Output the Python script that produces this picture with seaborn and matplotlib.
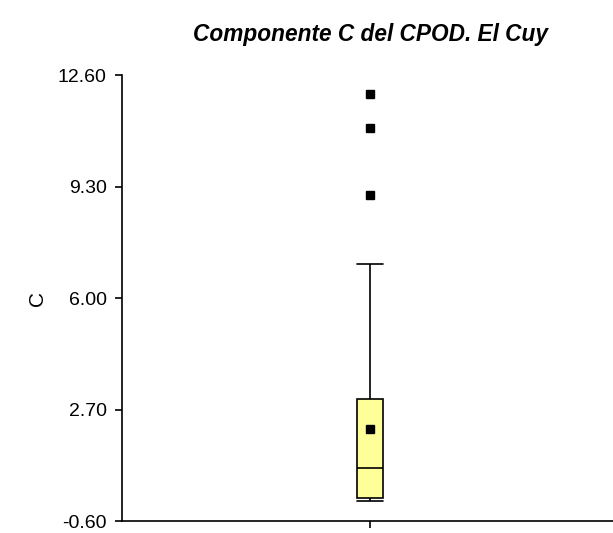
import matplotlib
matplotlib.use("Agg")
import matplotlib.pyplot as plt
import seaborn as sns
import pandas as pd

# Observations (hand-read sample reproducing the box statistics in the reference)
c_values = [
    0.00, 0.00, 0.01, 0.01, 0.02, 0.03, 0.04, 0.05, 0.06, 0.07,
    0.08,
    0.12, 0.18, 0.25, 0.33, 0.42, 0.52, 0.64, 0.76, 0.88,
    0.98,
    1.05, 1.15, 1.30, 1.45, 1.65, 1.85, 2.10, 2.40, 2.75,
    3.00,
    3.10, 3.30, 3.60, 4.00, 4.60, 5.50,
    7.00,
    9.05, 11.05, 12.05,
]
y_ticks = [-0.60, 2.70, 6.00, 9.30, 12.60]
y_tick_labels = ["-0.60", "2.70", "6.00", "9.30", "12.60"]
title = "Componente C del CPOD. El Cuy"
y_label = "C"
group = ["El Cuy"] * len(c_values)

df = pd.DataFrame({"grupo": group, "C": c_values})

sns.set_theme(style="ticks")
plt.rcParams["font.family"] = ["Liberation Sans", "DejaVu Sans"]
plt.rcParams["text.color"] = "black"
plt.rcParams["axes.labelcolor"] = "black"

fig = plt.figure(figsize=(6.13, 5.33), dpi=100)
ax = fig.add_axes([0.199, 0.0225, 0.801, 0.836])

lw = 1.2
sns.boxplot(
    data=df, x="grupo", y="C", ax=ax,
    width=0.054, color="#FFFF99", saturation=1, linecolor="black",
    linewidth=lw, whis=1.5, showmeans=True,
    meanprops=dict(marker="s", markerfacecolor="black", markeredgecolor="black", markersize=6),
    flierprops=dict(marker="s", markerfacecolor="black", markeredgecolor="black", markersize=6),
    capwidths=0.054,
)

ax.set_xlim(-0.5, 0.49)
ax.set_ylim(-0.6, 12.6)
ax.set_yticks(y_ticks)
ax.set_yticklabels(y_tick_labels)
ax.set_xticks([0])
ax.set_xticklabels([""])
ax.set_xlabel("")
ax.set_ylabel(y_label, fontsize=15, labelpad=8, color="black")
ax.tick_params(axis="both", direction="out", length=5, width=lw, color="black",
               labelsize=14, labelcolor="black", pad=6)
for s in ["top", "right"]:
    ax.spines[s].set_visible(False)
for s in ["left", "bottom"]:
    ax.spines[s].set_color("black")
    ax.spines[s].set_linewidth(lw)

fig.text(0.604, 0.936, title, ha="center", va="center", fontsize=16.3,
         fontweight="bold", fontstyle="italic", color="black")

fig.savefig("out.png", dpi=100)
